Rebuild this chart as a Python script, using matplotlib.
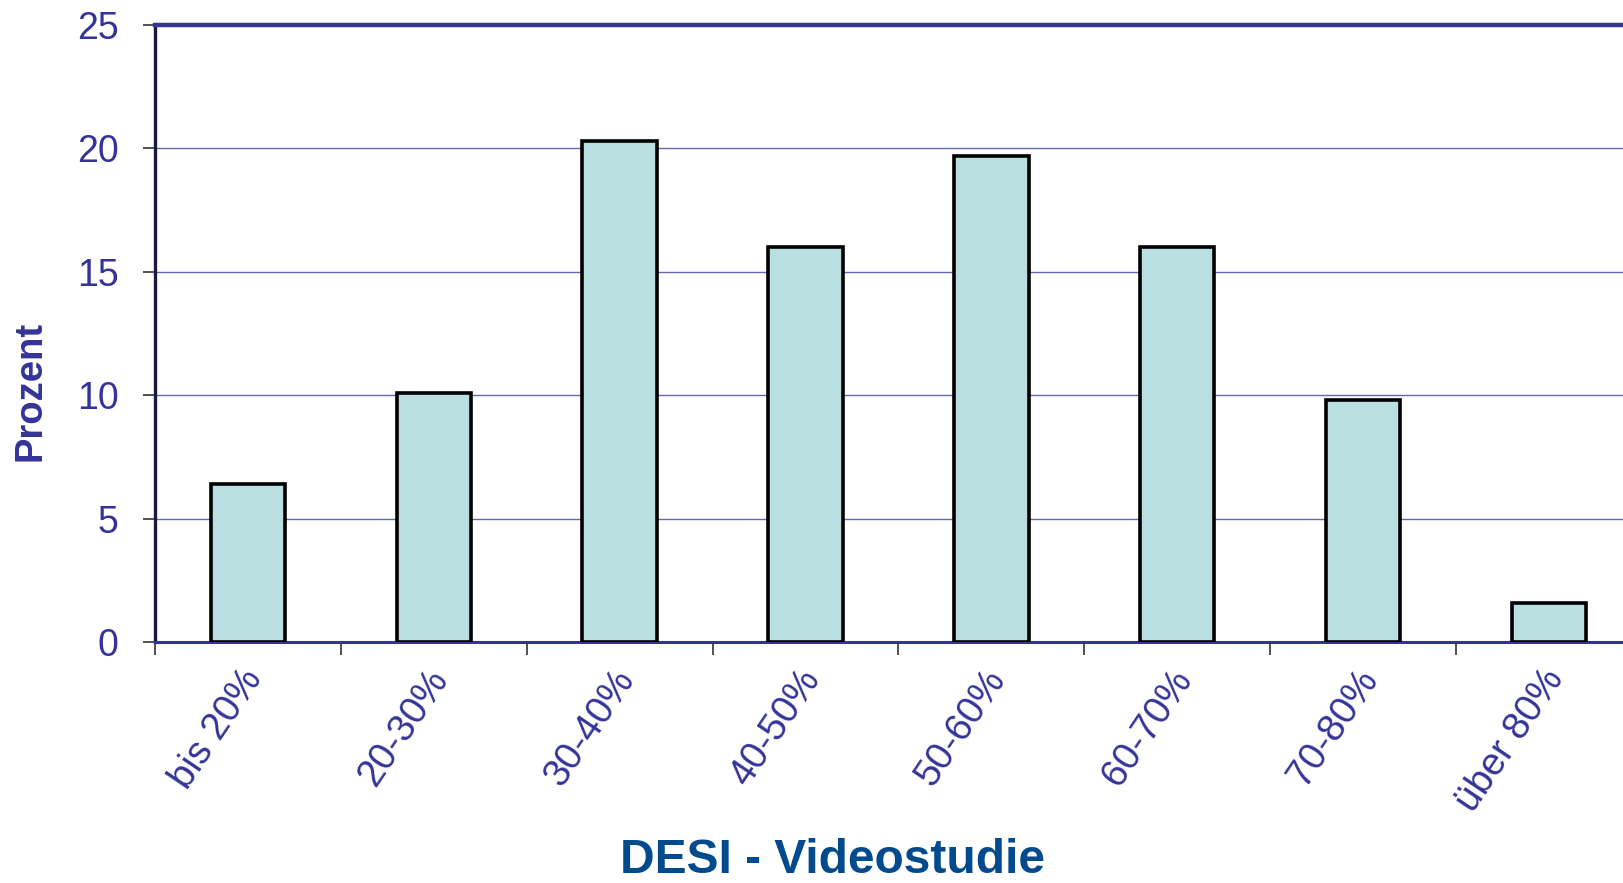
import matplotlib
matplotlib.use("Agg")
import matplotlib.pyplot as plt
import matplotlib.transforms as mtransforms
import numpy as np

categories = ["bis 20%", "20-30%", "30-40%", "40-50%", "50-60%", "60-70%", "70-80%", "über 80%"]
prozent = [6.4, 10.1, 20.3, 16.0, 19.7, 16.0, 9.8, 1.6]
y_ticks = [0, 5, 10, 15, 20, 25]

navy = "#333399"
plt.rcParams["font.family"] = ["Liberation Sans", "DejaVu Sans"]

fig = plt.figure(figsize=(16.24, 8.83), dpi=100)
ax = fig.add_axes([0.0954, 0.2729, 0.9157, 0.699])

x = np.arange(len(categories))
ax.bar(x, prozent, width=0.4, color="#B9DFE1", edgecolor="black", linewidth=2.6, zorder=3)

ax.set_xlim(-0.5, len(categories) - 0.5)
ax.set_ylim(0, 25)
ax.set_yticks(y_ticks)
ax.yaxis.grid(True, color="#6666B0", linewidth=1.0, zorder=0)

# labels on the bar centres, tick marks on the category borders
ax.set_xticks(x)
ax.set_xticklabels(categories, rotation=56, ha="right", va="center",
                   rotation_mode="anchor", fontsize=27.5, color=navy)
ax.tick_params(axis="x", which="major", length=0, pad=22)
shift = mtransforms.ScaledTranslation(7 / 100, 0, fig.dpi_scale_trans)
for lab in ax.get_xticklabels():
    lab.set_transform(lab.get_transform() + shift)
ax.set_xticks(np.arange(len(categories) + 1) - 0.5, minor=True)
ax.tick_params(axis="x", which="minor", length=9, width=1.2, color="#333333", direction="out")
ax.tick_params(axis="y", length=9, width=1.2, color="#333333", pad=17,
               labelsize=27, labelcolor=navy)

ax.spines["top"].set_color(navy)
ax.spines["top"].set_linewidth(3.2)
ax.spines["bottom"].set_color(navy)
ax.spines["bottom"].set_linewidth(2.2)
ax.spines["left"].set_color("#1a1a40")
ax.spines["left"].set_linewidth(2.4)
ax.spines["right"].set_visible(False)

fig.text(31 / 1624, 1 - 391 / 883, "Prozent", rotation=90, ha="center", va="center",
         fontsize=27.5, fontweight="bold", color=navy)
fig.text(833 / 1624, 10 / 883, "DESI - Videostudie", ha="center", va="baseline",
         fontsize=34.5, fontweight="bold", color="#004A8D")

fig.savefig("out.png", dpi=100)
